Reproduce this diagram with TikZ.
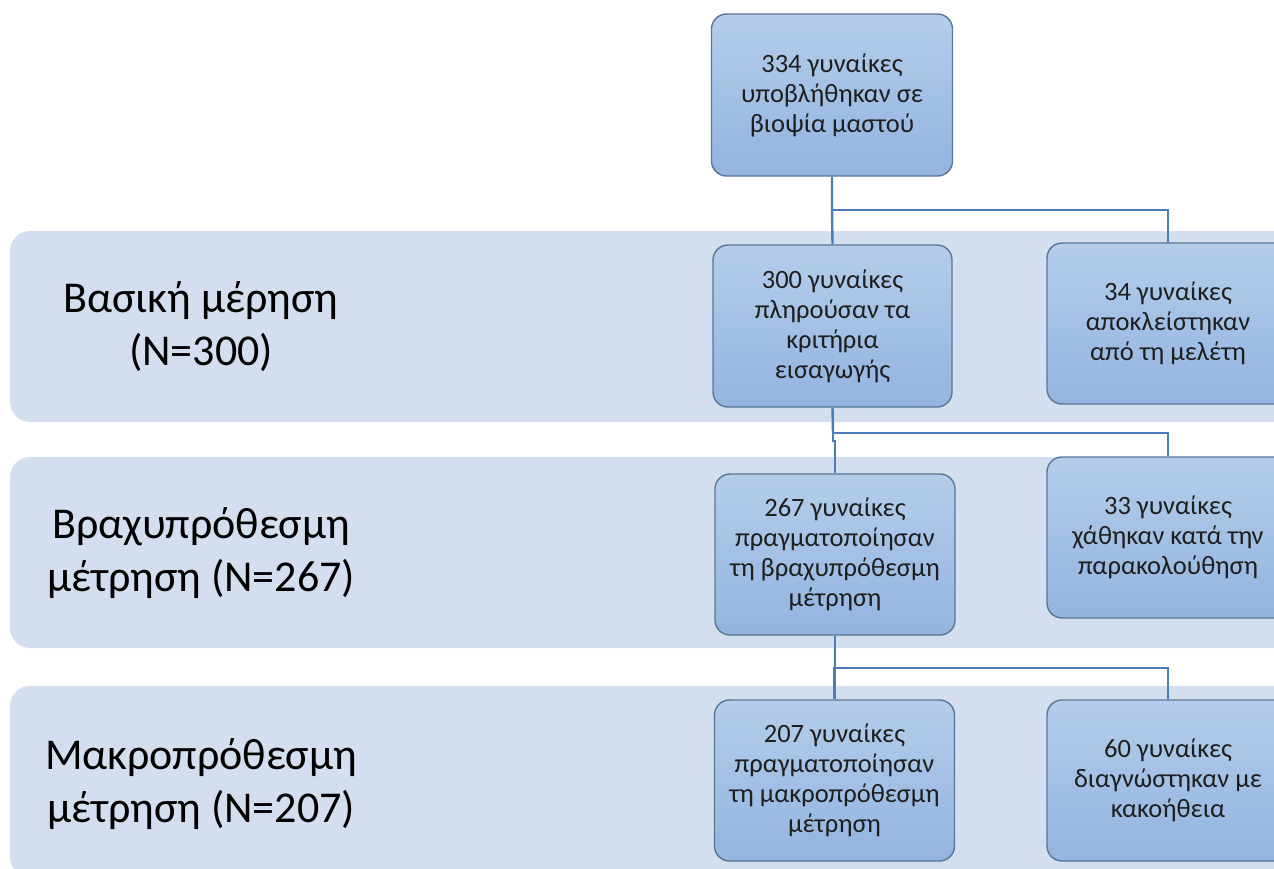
\documentclass[tikz,border=0pt]{standalone}
\usepackage{fontspec}
\setmainfont{Carlito}
\usetikzlibrary{calc}
\definecolor{bandfill}{HTML}{D3DEEF}
\definecolor{boxtop}{HTML}{B4CDEA}
\definecolor{boxbot}{HTML}{92B4E0}
\definecolor{boxline}{HTML}{5A7696}
\definecolor{connline}{HTML}{4A7EBB}
\definecolor{txt}{HTML}{1E1E1E}
\begin{document}
\begin{tikzpicture}[x=1pt,y=-1pt,
  band/.style={fill=bandfill, rounded corners=20pt},
  phase/.style={align=center, font=\fontsize{44}{53}\selectfont, text=black},
  flowbox/.style={draw=boxline, line width=1.4pt, rounded corners=15pt,
    top color=boxtop, bottom color=boxbot, align=center,
    font=\fontsize{26.5}{30}\selectfont, text=txt, inner sep=0pt},
  conn/.style={draw=connline, line width=2.4pt}]
\useasboundingbox (0,0) rectangle (1274,868);
\clip (0,0) rectangle (1274,868);
% bands
\fill[band] (10,231) rectangle (1320,422);
\fill[band] (10,457) rectangle (1320,648);
\fill[band] (10,686) rectangle (1320,877);
% phase labels
\node[phase] (p1) at (201,327) {Βασική μέρηση\\(N=300)};
\node[phase] (p2) at (201,553) {Βραχυπρόθεσμη\\μέτρηση (N=267)};
\node[phase] (p3) at (201,784) {Μακροπρόθεσμη\\μέτρηση (N=207)};
% connectors coordinates
\coordinate (j1) at (832,210);
\coordinate (j2) at (833,433);
\coordinate (j3) at (835,668);
% boxes
\node[flowbox, minimum width=241pt, minimum height=162pt] (top) at (832,95)
  {334 γυναίκες\\υποβλήθηκαν σε\\βιοψία μαστού};
\node[flowbox, minimum width=239pt, minimum height=162pt] (n300) at (832.5,326)
  {300 γυναίκες\\πληρούσαν τα\\κριτήρια\\εισαγωγής};
\node[flowbox, minimum width=242pt, minimum height=161pt] (n34) at (1168,323.5)
  {34 γυναίκες\\αποκλείστηκαν\\από τη μελέτη};
\node[flowbox, minimum width=240pt, minimum height=161pt] (n267) at (835,554.5)
  {267 γυναίκες\\πραγματοποίησαν\\τη βραχυπρόθεσμη\\μέτρηση};
\node[flowbox, minimum width=242pt, minimum height=161pt] (n33) at (1168,537.5)
  {33 γυναίκες\\χάθηκαν κατά την\\παρακολούθηση};
\node[flowbox, minimum width=240pt, minimum height=161pt] (n207) at (834.5,780.5)
  {207 γυναίκες\\πραγματοποίησαν\\τη μακροπρόθεσμη\\μέτρηση};
\node[flowbox, minimum width=242pt, minimum height=161pt] (n60) at (1168,780.5)
  {60 γυναίκες\\διαγνώστηκαν με\\κακοήθεια};
% connectors
\draw[conn] (top.south) -- (j1) -- (n300.north);
\draw[conn] (j1) -| (n34.north);
\draw[conn] (n300.south) -- (j2);
\draw[conn] (j2) -- ++(0,8) -| (n267.north);
\draw[conn] (j2) -| (n33.north);
\draw[conn] (n267.south) -- (j3) -| (n207.north);
\draw[conn] (j3) -| (n60.north);
\end{tikzpicture}
\end{document}
